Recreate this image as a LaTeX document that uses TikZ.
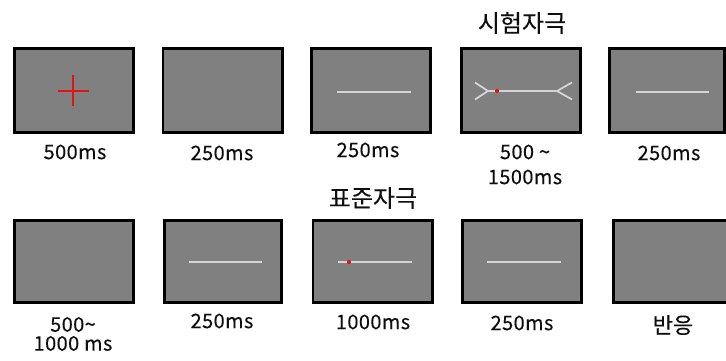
\documentclass[tikz,border=0pt]{standalone}
\usepackage{fontspec}
\setmainfont{Noto Sans CJK KR}
\usetikzlibrary{calc}
\definecolor{panelgray}{RGB}{128,128,128}
\definecolor{stimline}{RGB}{212,212,212}
\definecolor{txt}{RGB}{15,15,15}
\definecolor{fixred}{RGB}{225,20,20}
\begin{document}
\begin{tikzpicture}[x=1pt,y=-1pt,
  panel/.style={draw=black, line width=2.6pt, fill=panelgray, inner sep=0pt,
    minimum width=119.4pt, minimum height=83.4pt},
  stim/.style={draw=stimline, line width=1.8pt},
  cross/.style={draw=fixred, line width=1.1pt},
  reddot/.style={fill=fixred},
  lbl/.style={inner sep=0pt, text=txt, align=center,
    font=\fontsize{20}{19}\selectfont\addfontfeature{LetterSpace=2,FakeBold=0.2}},
  head/.style={inner sep=0pt, text=txt,
    font=\fontsize{24}{24}\selectfont\addfontfeature{FakeBold=0.2}}]
\useasboundingbox (0,0) rectangle (726,361);
\fill[white] (0,0) rectangle (726,361);
% top row panels
\node[panel] (t1) at (74,90.5) {};
\node[panel] (t2) at (222.5,90.5) {};
\node[panel] (t3) at (371,90.5) {};
\node[panel] (t4) at (521,90.5) {};
\node[panel, minimum width=115.4pt] (t5) at (667,90.5) {};
% bottom row panels
\node[panel, minimum height=82.4pt] (b1) at (74,261.5) {};
\node[panel, minimum height=82.4pt, minimum width=117.4pt] (b2) at (223,261.5) {};
\node[panel, minimum height=82.4pt] (b3) at (372.5,261.5) {};
\node[panel, minimum height=82.4pt] (b4) at (522,261.5) {};
\node[panel, minimum height=82.4pt, minimum width=125.4pt] (b5) at (676,261.5) {};
% fixation cross
\draw[cross] ($(t1.center)+(-16,0.5)$) -- ($(t1.center)+(15,0.5)$);
\draw[cross] ($(t1.center)+(-1,-15.5)$) -- ($(t1.center)+(-1,15.5)$);
% plain lines
\draw[stim] ($(t3.center)+(-34,1.5)$) -- ($(t3.center)+(40,1.5)$);
\draw[stim] ($(t5.center)+(-31,1.5)$) -- ($(t5.center)+(42,1.5)$);
\draw[stim] ($(b2.center)+(-34,0.5)$) -- ($(b2.center)+(39,0.5)$);
\draw[stim] ($(b3.center)+(-34.5,0.5)$) -- ($(b3.center)+(39.5,0.5)$);
\draw[stim] ($(b4.center)+(-35,0.5)$) -- ($(b4.center)+(39,0.5)$);
% Mueller-Lyer test stimulus
\draw[stim] ($(t4.center)+(-33,0.5)$) -- ($(t4.center)+(36,0.5)$);
\draw[stim] ($(t4.center)+(-46,-8)$) -- ($(t4.center)+(-33,0.5)$) -- ($(t4.center)+(-46,9)$);
\draw[stim] ($(t4.center)+(51,-8)$) -- ($(t4.center)+(36,0.5)$) -- ($(t4.center)+(51,9)$);
% red dots
\fill[reddot] ($(t4.center)+(-24,0.5)$) circle (2.1);
\fill[reddot] ($(b3.center)+(-23.5,0.5)$) circle (2.1);
% headers
\node[head] (h1) at (522,23) {시험자극};
\node[head] (h2) at (373,198) {표준자극};
% labels
\node[lbl] (l1) at (75,152) {500ms};
\node[lbl] (l2) at (222,153) {250ms};
\node[lbl] (l3) at (368,150) {250ms};
\node[lbl] (l4) at (525,164.5) {500 \symbol{"7E}\\[6pt]1500ms};
\node[lbl] (l5) at (669,153) {250ms};
\node[lbl] (m1) at (73,334) {500\symbol{"7E}\\1000 ms};
\node[lbl] (m2) at (222,321) {250ms};
\node[lbl] (m3) at (373,322) {1000ms};
\node[lbl] (m4) at (522,323) {250ms};
\node[head, font=\fontsize{22}{22}\selectfont\addfontfeature{FakeBold=0.2}] (m5) at (673,325) {반응};
\end{tikzpicture}
\end{document}
